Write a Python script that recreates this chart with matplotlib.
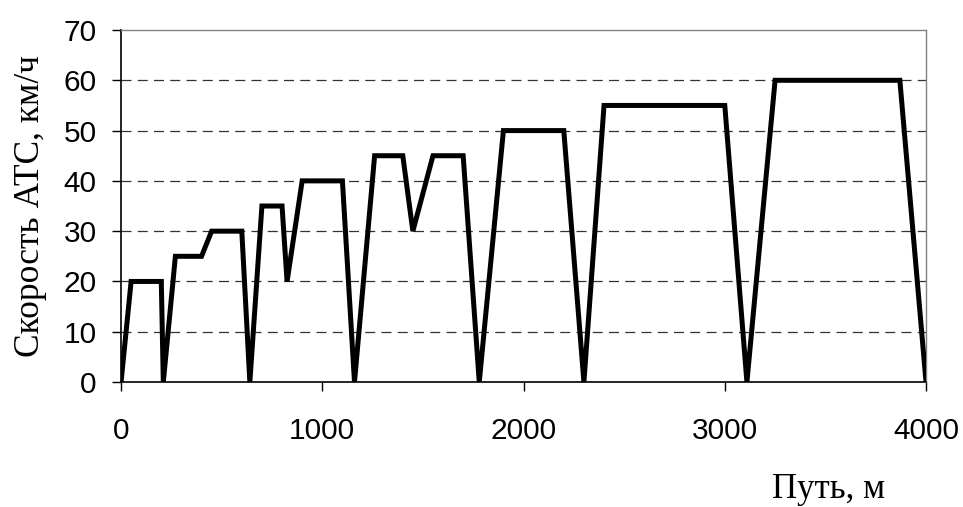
import matplotlib
matplotlib.use('Agg')
import matplotlib.pyplot as plt

# путь, м и скорость, км/ч
path_m = [0, 50, 200, 210, 270, 400, 450, 600, 640, 700, 800, 825, 900, 1100,
          1160, 1260, 1400, 1450, 1550, 1700, 1780, 1900, 2200, 2300, 2400,
          3000, 3110, 3250, 3870, 4000]
speed_kmh = [0, 20, 20, 0, 25, 25, 30, 30, 0, 35, 35, 20, 40, 40,
             0, 45, 45, 30, 45, 45, 0, 50, 50, 0, 55,
             55, 0, 60, 60, 0]

x_ticks = [0, 1000, 2000, 3000, 4000]
y_ticks = [0, 10, 20, 30, 40, 50, 60, 70]

sans = 'Liberation Sans'
serif = 'Liberation Serif'

fig = plt.figure(figsize=(9.63, 5.07), dpi=100)
ax = fig.add_axes([0.1257, 0.2465, 0.8359, 0.6943])

for y in y_ticks[1:-1]:
    ax.axhline(y, color='#333333', lw=0.9, dashes=(8, 5), zorder=1)

ax.plot(path_m, speed_kmh, color='black', lw=3.6,
        solid_joinstyle='miter', zorder=3)

ax.set_xlim(0, 4000)
ax.set_ylim(0, 70)
ax.set_xticks(x_ticks)
ax.set_yticks(y_ticks)
ax.set_xticklabels([str(v) for v in x_ticks], fontfamily=sans, fontsize=21.5)
ax.set_yticklabels([str(v) for v in y_ticks], fontfamily=sans, fontsize=21.5)
ax.tick_params(axis='x', direction='out', length=6.5, width=1, pad=19)
ax.tick_params(axis='y', direction='out', length=6.5, width=1, pad=11)

for side in ['left', 'bottom']:
    ax.spines[side].set_color('black')
    ax.spines[side].set_linewidth(1.2)
for side in ['top', 'right']:
    ax.spines[side].set_color('#808080')
    ax.spines[side].set_linewidth(1.0)

ax.set_ylabel('Скорость АТС, км/ч', fontfamily=serif, fontsize=25.5, labelpad=12)
ax.annotate('Путь, м', xy=(829, 507 - 489), xycoords='figure pixels',
            ha='center', va='center', fontfamily=serif, fontsize=25)

fig.savefig('out.png', dpi=100)
